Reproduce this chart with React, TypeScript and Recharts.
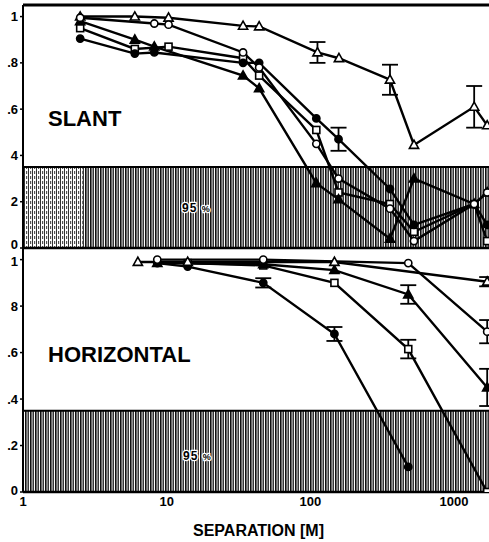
import React from 'react';
import { LineChart, Line, XAxis, YAxis, ReferenceArea, ReferenceLine, ErrorBar } from 'recharts';

// ---------- SLANT panel data ----------
const slantTriX = [2.5, 6, 10.3, 34, 44, 112, 158, 358, 526, 1380, 1700];
const slantTriY = [1.0, 1.0, 0.995, 0.96, 0.957, 0.845, 0.82, 0.727, 0.445, 0.61, 0.53];
const slantTriErr = [0, 0, 0, 0, 0, 0.045, 0, 0.065, 0, 0.09, 0];

const slantCircX = [2.5, 8.2, 10.3, 34, 44, 110, 157, 358, 526, 1380, 1700];
const slantCircY = [0.995, 0.97, 0.965, 0.845, 0.78, 0.45, 0.3, 0.17, 0.03, 0.19, 0.24];

const slantSqX = [2.5, 6, 10.3, 34, 44, 110, 157, 358, 526, 1380, 1700];
const slantSqY = [0.95, 0.86, 0.87, 0.82, 0.745, 0.51, 0.24, 0.19, 0.07, 0.19, 0.03];

const slantDotX = [2.5, 6, 8.2, 34, 44, 110, 157, 358, 526, 1380, 1700];
const slantDotY = [0.905, 0.84, 0.845, 0.8, 0.8, 0.56, 0.47, 0.255, 0.1, 0.19, 0.1];
const slantDotErr = [0, 0, 0, 0, 0, 0, 0.05, 0, 0, 0, 0];

const slantFTriX = [2.5, 6, 8.2, 34, 44, 110, 157, 358, 526, 1380, 1700];
const slantFTriY = [0.98, 0.9, 0.87, 0.745, 0.69, 0.28, 0.21, 0.04, 0.3, 0.19, 0.24];

// ---------- HORIZONTAL panel data ----------
const horTriX = [6.3, 14, 147, 1700];
const horTriY = [0.99, 0.99, 0.99, 0.905];
const horTriErr = [0, 0, 0, 0.02];

const horCircX = [8.6, 47, 480, 1700];
const horCircY = [1.0, 1.0, 0.985, 0.69];
const horCircErr = [0, 0, 0, 0.05];

const horFTriX = [8.6, 47, 147, 480, 1700];
const horFTriY = [0.985, 0.98, 0.955, 0.85, 0.45];
const horFTriErr = [0, 0, 0, 0.04, 0.08];

const horSqX = [14, 47, 147, 480, 1700];
const horSqY = [0.985, 0.975, 0.9, 0.615, 0.0];
const horSqErr = [0, 0, 0, 0.04, 0];

const horDotX = [8.6, 14, 47, 147, 480];
const horDotY = [0.985, 0.97, 0.9, 0.68, 0.108];
const horDotErr = [0, 0, 0.02, 0.03, 0];

// ---------- axes ----------
const xDomain = [1, 1750];
const xTicks = [1, 10, 100, 1000];
const xTickLabels = ['1', '10', '100', '1000'];
const yTicks = [0, 0.2, 0.4, 0.6, 0.8, 1];
const slantTickLabels = ['0', '2', '4', '.6', '.8', '1'];
const horTickLabels = ['0', '.2', '.4', '.6', '8', '1'];
const band = [0, 0.35];
const yDomain = [0, 1.05];

const zip = (xs: number[], ys: number[], es?: number[]) =>
  xs.map((x, i) => ({ x, y: ys[i], err: es ? es[i] : 0 }));

function makeDot(shape: string, filled: boolean) {
  return (p: any) => {
    const { cx, cy, index } = p;
    const k = `${shape}-${filled}-${index}`;
    if (cx == null || cy == null) return <g key={k} />;
    const common = { fill: filled ? '#000' : '#fff', stroke: '#000', strokeWidth: 1.6 };
    if (shape === 'circle') return <circle key={k} cx={cx} cy={cy} r={3.6} {...common} />;
    if (shape === 'square') return <rect key={k} x={cx - 3.5} y={cy - 3.5} width={7} height={7} {...common} />;
    return <polygon key={k} points={`${cx},${cy - 4.8} ${cx + 4.6},${cy + 3.4} ${cx - 4.6},${cy + 3.4}`} {...common} />;
  };
}

const font = '"Liberation Sans", Arial, sans-serif';
const tickStyle = { fontSize: 13, fontWeight: 700, fill: '#000', fontFamily: font };

function makeYTick(labels: string[], shiftZero: number, shiftOne: number) {
  return (p: any) => {
    const v = p.payload?.value;
    const i = yTicks.indexOf(v);
    const dy = v === 0 ? shiftZero : v === 1 ? shiftOne : 0;
    return (
      <text
        key={`t-${v}`}
        x={p.x}
        y={p.y + dy}
        dy="0.355em"
        textAnchor="end"
        fontSize={13}
        fontWeight={700}
        fontFamily={font}
        fill="#000"
      >
        {labels[i] ?? ''}
      </text>
    );
  };
}

const Defs = () => (
  <defs>
    <pattern id="hatch" width="5" height="7" patternUnits="userSpaceOnUse">
      <rect x="0" y="0" width="5" height="7" fill="#fff" />
      <rect x="0" y="0" width="1.6" height="7" fill="#111" />
      <rect x="2.5" y="0" width="1.4" height="7" fill="#222" />
    </pattern>
    <pattern id="hatchLight" width="4" height="5" patternUnits="userSpaceOnUse">
      <rect x="0" y="0" width="4" height="5" fill="#fff" />
      <rect x="0" y="0" width="1" height="5" fill="#333" />
      <rect x="2" y="1" width="1.2" height="3" fill="#555" />
    </pattern>
  </defs>
);

const lineProps = { type: 'linear' as const, dataKey: 'y', stroke: '#000', strokeWidth: 2.4, isAnimationActive: false };
const errProps = { dataKey: 'err', width: 8, strokeWidth: 1.8, stroke: '#000', direction: 'y' as const };

export default function App() {
  return (
    <div style={{ position: 'absolute', left: 0, top: 0, width: 489, height: 542, background: '#fff', fontFamily: font }}>
      <div style={{ position: 'absolute', left: 0, top: 0 }}>
        <LineChart width={489} height={258} margin={{ top: 5, right: 0, bottom: 10, left: 0 }}>
          <Defs />
          <XAxis type="number" dataKey="x" scale="log" domain={xDomain} allowDataOverflow hide />
          <YAxis
            type="number"
            domain={yDomain}
            ticks={yTicks}
            width={23}
            allowDataOverflow
            tick={makeYTick(slantTickLabels, -4, 0)}
            tickSize={3}
            axisLine={{ stroke: '#000', strokeWidth: 2 }}
            tickLine={{ stroke: '#000', strokeWidth: 1.5 }}
          />
          <ReferenceArea x1={1} x2={1750} y1={band[0]} y2={band[1]} fill="url(#hatch)" fillOpacity={1} stroke="none" />
          <ReferenceArea x1={1} x2={2.6} y1={band[0]} y2={band[1]} fill="url(#hatchLight)" fillOpacity={1} stroke="none" />
          <ReferenceLine y={band[1]} stroke="#000" strokeWidth={2} />
          <ReferenceLine y={0} stroke="#000" strokeWidth={2.5} />
          <ReferenceLine y={1.05} stroke="#000" strokeWidth={3} />
          <Line {...lineProps} data={zip(slantSqX, slantSqY)} dot={makeDot('square', false)} />
          <Line {...lineProps} data={zip(slantFTriX, slantFTriY)} dot={makeDot('triangle', true)} />
          <Line {...lineProps} data={zip(slantDotX, slantDotY, slantDotErr)} dot={makeDot('circle', true)}>
            <ErrorBar {...errProps} />
          </Line>
          <Line {...lineProps} data={zip(slantTriX, slantTriY, slantTriErr)} dot={makeDot('triangle', false)}>
            <ErrorBar {...errProps} />
          </Line>
          <Line {...lineProps} data={zip(slantCircX, slantCircY)} dot={makeDot('circle', false)} />
        </LineChart>
      </div>
      <div style={{ position: 'absolute', left: 0, top: 248 }}>
        <LineChart width={489} height={270} margin={{ top: 0, right: 0, bottom: 2, left: 0 }}>
          <Defs />
          <XAxis
            type="number"
            dataKey="x"
            scale="log"
            domain={xDomain}
            ticks={xTicks}
            allowDataOverflow
            height={24}
            tick={tickStyle}
            tickSize={3}
            tickLine={false}
            tickFormatter={(v: number) => xTickLabels[xTicks.indexOf(v)] ?? ''}
            axisLine={{ stroke: '#000', strokeWidth: 2.5 }}
          />
          <YAxis
            type="number"
            domain={yDomain}
            ticks={yTicks}
            width={23}
            allowDataOverflow
            tick={makeYTick(horTickLabels, -2, 2)}
            tickSize={3}
            axisLine={{ stroke: '#000', strokeWidth: 2 }}
            tickLine={{ stroke: '#000', strokeWidth: 1.5 }}
          />
          <ReferenceArea x1={1} x2={1750} y1={band[0]} y2={band[1]} fill="url(#hatch)" fillOpacity={1} stroke="none" />
          <ReferenceLine y={band[1]} stroke="#000" strokeWidth={2} />
          <ReferenceLine y={1.05} stroke="#000" strokeWidth={2} />
          <Line {...lineProps} data={zip(horDotX, horDotY, horDotErr)} dot={makeDot('circle', true)}>
            <ErrorBar {...errProps} />
          </Line>
          <Line {...lineProps} data={zip(horSqX, horSqY, horSqErr)} dot={makeDot('square', false)}>
            <ErrorBar {...errProps} />
          </Line>
          <Line {...lineProps} data={zip(horFTriX, horFTriY, horFTriErr)} dot={makeDot('triangle', true)}>
            <ErrorBar {...errProps} />
          </Line>
          <Line {...lineProps} data={zip(horCircX, horCircY, horCircErr)} dot={makeDot('circle', false)}>
            <ErrorBar {...errProps} />
          </Line>
          <Line {...lineProps} data={zip(horTriX, horTriY, horTriErr)} dot={makeDot('triangle', false)}>
            <ErrorBar {...errProps} />
          </Line>
        </LineChart>
      </div>
      <svg width={489} height={542} style={{ position: 'absolute', left: 0, top: 0, pointerEvents: 'none' }}>
        <g fontFamily={font} fontWeight={700} fill="#000">
          <text x={48} y={126} fontSize={22}>SLANT</text>
          <text x={48} y={362} fontSize={22}>HORIZONTAL</text>
          <g stroke="#fff" strokeWidth={2.5} paintOrder="stroke" strokeLinejoin="round">
            <text x={182} y={212} fontSize={12} letterSpacing={1}>95 <tspan fontSize={9}>%</tspan></text>
            <text x={183} y={460} fontSize={12} letterSpacing={1}>95 <tspan fontSize={9}>%</tspan></text>
          </g>
          <text x={193} y={536} fontSize={16}>SEPARATION [M]</text>
        </g>
      </svg>
    </div>
  );
}
